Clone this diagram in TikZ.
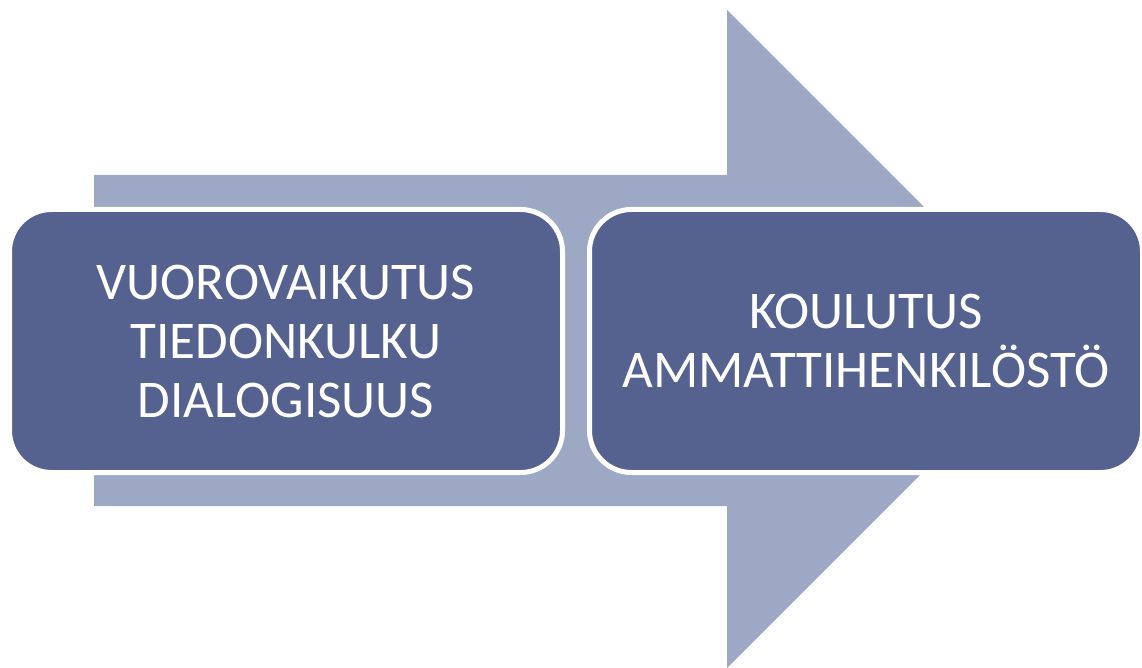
\documentclass[tikz,border=0pt]{standalone}
\usepackage{fontspec}
\setmainfont{Carlito}
\definecolor{boxfill}{RGB}{85,97,143}
\definecolor{arrowfill}{RGB}{157,169,196}
\tikzset{
  stagebox/.style={draw=white, line width=5pt, fill=boxfill, rounded corners=42pt,
    minimum width=553pt, minimum height=263pt, inner sep=0pt,
    text=white, align=center, font=\fontsize{53}{59}\selectfont},
  bigarrow/.style={fill=arrowfill, draw=none}
}
\begin{document}
\begin{tikzpicture}[x=1pt,y=-1pt]
\useasboundingbox (0,0) rectangle (1142,668);
\fill[white] (0,0) rectangle (1142,668);
\fill[bigarrow] (94,175) -- (727,175) -- (727,10) -- (1056,339) -- (727,668) -- (727,506) -- (94,506) -- cycle;
\node[stagebox] (left) at (286,341) {VUOROVAIKUTUS\\TIEDONKULKU\\DIALOGISUUS};
\node[stagebox] (right) at (866,341) {KOULUTUS\\AMMATTIHENKILÖSTÖ};
\end{tikzpicture}
\end{document}
